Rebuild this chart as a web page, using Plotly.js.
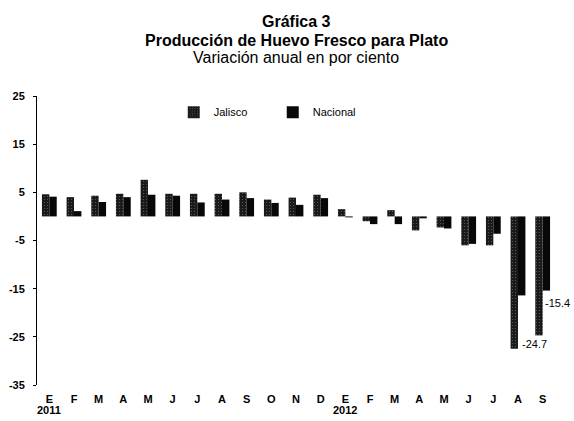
<!DOCTYPE html>
<html>
<head>
<meta charset="utf-8">
<script src="https://cdn.plot.ly/plotly-3.0.1.min.js"></script>
<style>html,body{margin:0;padding:0;background:#fff;}#chart{width:574px;height:421px;}</style>
</head>
<body>
<div id="chart"></div>
<script>
const months = ["E","F","M","A","M","J","J","A","S","O","N","D","E","F","M","A","M","J","J","A","S"];
const yearLabels = ["2011","2012"];
const yearIndex = [0, 12];
const jalisco = [4.6, 4.0, 4.3, 4.7, 7.6, 4.7, 4.7, 4.7, 5.0, 3.5, 3.9, 4.5, 1.5, -1.0, 1.3, -2.9, -2.3, -6.0, -6.0, -27.5, -24.7];
const nacional = [4.1, 1.1, 3.0, 4.0, 4.5, 4.3, 2.9, 3.5, 3.8, 2.8, 2.4, 3.8, -0.2, -1.6, -1.6, -0.4, -2.5, -5.7, -3.6, -16.4, -15.4];
const yTicks = [-35, -25, -15, -5, 5, 15, 25];
const titleLines = ["Gráfica 3", "Producción de Huevo Fresco para Plato", "Variación anual en por ciento"];

const idx = months.map((m, i) => i);
const FONT = "Liberation Sans, Arial, sans-serif";

const traces = [
  {type: "bar", name: "Jalisco", x: idx, y: jalisco,
   marker: {color: "#1a1a1a", line: {width: 0},
            pattern: {shape: ".", bgcolor: "#1a1a1a", fgcolor: "#606060", size: 3, solidity: 0.12}}},
  {type: "bar", name: "Nacional", x: idx, y: nacional,
   marker: {color: "#080808", line: {width: 0}}}
];

const last = months.length - 1;
const annotations = [
  {text: "<b>" + titleLines[0] + "</b>", xref: "paper", yref: "paper", x: 0.5, y: 1.2565, xanchor: "center", yanchor: "middle", showarrow: false, font: {family: FONT, size: 16, color: "#000"}},
  {text: "<b>" + titleLines[1] + "</b>", xref: "paper", yref: "paper", x: 0.5, y: 1.1934, xanchor: "center", yanchor: "middle", showarrow: false, font: {family: FONT, size: 16, color: "#000"}},
  {text: titleLines[2], xref: "paper", yref: "paper", x: 0.5, y: 1.132, xanchor: "center", yanchor: "middle", showarrow: false, font: {family: FONT, size: 16, color: "#000"}},
  {text: String(jalisco[last]), x: last, y: jalisco[last], xref: "x", yref: "y", xanchor: "center", yanchor: "top", xshift: -8, yshift: -1, showarrow: false, font: {family: FONT, size: 11, color: "#000"}},
  {text: String(nacional[last]), x: last, y: nacional[last], xref: "x", yref: "y", xanchor: "left", yanchor: "top", xshift: 0, yshift: -4, showarrow: false, font: {family: FONT, size: 11, color: "#000"}}
];
yearIndex.forEach((ix, k) => {
  annotations.push({text: "<b>" + yearLabels[k] + "</b>", x: ix, xref: "x", yref: "paper", y: -0.086, xanchor: "center", yanchor: "middle", showarrow: false, font: {family: FONT, size: 11, color: "#000"}});
});

const zeroFrac = (0 - yTicks[0]) / (yTicks[yTicks.length - 1] - yTicks[0]);
const between = [];
for (let i = 0; i <= months.length; i++) between.push(i - 0.5);

const layout = {
  width: 574, height: 421,
  margin: {l: 37, r: 19, t: 96, b: 36},
  paper_bgcolor: "#fff", plot_bgcolor: "#fff",
  barmode: "group", bargap: 0.4, bargroupgap: 0,
  showlegend: true,
  legend: {orientation: "h", x: 0.264, y: 0.944, xanchor: "left", yanchor: "middle",
           font: {family: FONT, size: 11, color: "#000"}, entrywidth: 54, bgcolor: "rgba(0,0,0,0)"},
  xaxis: {type: "linear", range: [-0.5, months.length - 0.5], tickvals: idx, ticktext: months.map(m => "<b>" + m + "</b>"),
          showline: false, showgrid: false, zeroline: false, ticks: "", ticklabelstandoff: 6,
          tickfont: {family: FONT, size: 11, color: "#000"}},
  xaxis2: {type: "linear", overlaying: "x", anchor: "free", position: zeroFrac, range: [-0.5, months.length - 0.5],
           tickvals: between, showticklabels: false, ticks: "outside", ticklen: 4, tickwidth: 1, tickcolor: "#000",
           showline: true, linecolor: "#000", linewidth: 1.5, showgrid: false, zeroline: false},
  yaxis: {range: [yTicks[0], yTicks[yTicks.length - 1]], tickvals: yTicks, ticktext: yTicks.map(v => "<b>" + v + "</b>"),
          showline: true, linecolor: "#000", linewidth: 1, ticks: "outside", ticklen: 3, tickcolor: "#000",
          showgrid: false, zeroline: false, ticklabelstandoff: 6,
          tickfont: {family: FONT, size: 11, color: "#000"}},
  annotations: annotations
};

Plotly.newPlot("chart", traces, layout, {displayModeBar: false, staticPlot: true});
</script>
</body>
</html>
